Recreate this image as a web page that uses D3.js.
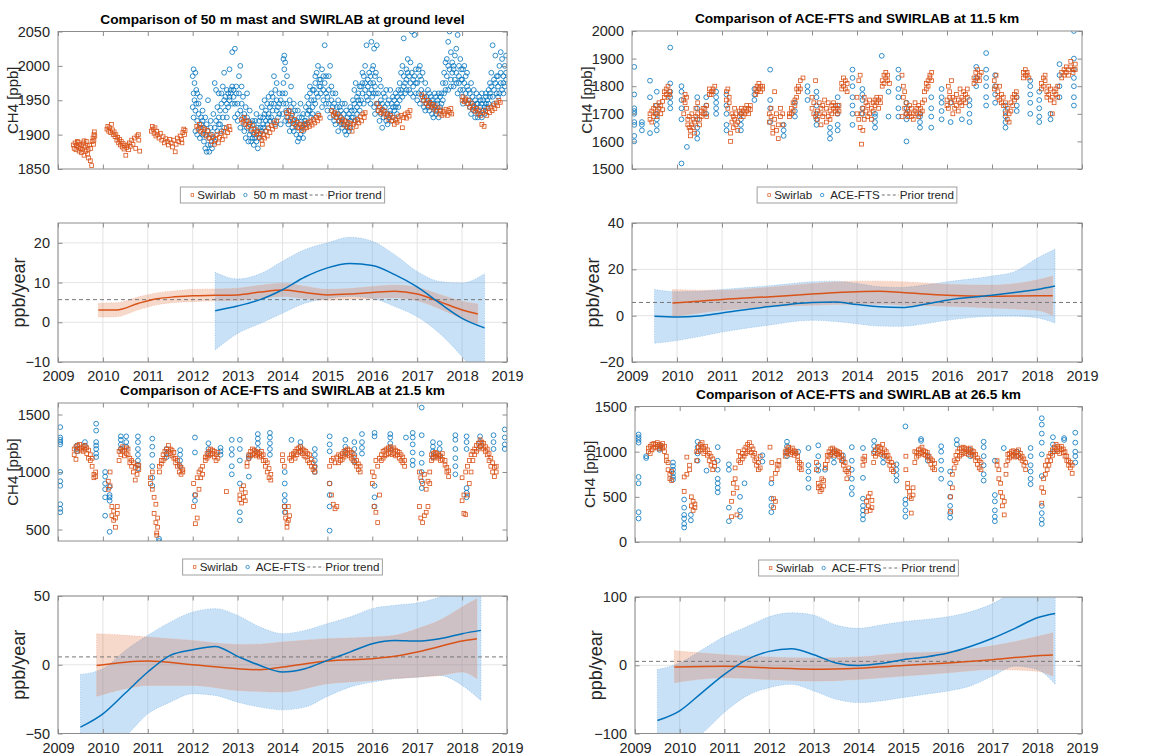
<!DOCTYPE html>
<html>
<head>
<meta charset="utf-8">
<script src="https://cdn.jsdelivr.net/npm/d3@7"></script>
<style>
body { margin: 0; background: #fff; }
svg { font-family: "Liberation Sans", Arial, sans-serif; }
</style>
</head>
<body>
<svg id="fig" width="1158" height="756"></svg>
<script>
// ---- data: scatter series, "t:v1,v2,.." where t = years after 2000 ----
var years = [2009, 2010, 2011, 2012, 2013, 2014, 2015, 2016, 2017, 2018, 2019];
var priorTrend = 5.7;

var groundSwirlab = "9.34:1885 9.36:1880 9.38:1888 9.40:1878 9.41:1884 9.43:1890 9.45:1882,1889 9.47:1876 9.48:1886 9.50:1880 9.52:1874 9.53:1884 9.55:1878 9.57:1888 9.58:1870,1891 9.60:1882 9.62:1876 9.63:1890 9.65:1884 9.66:1872 9.67:1878 9.68:1866 9.70:1885 9.72:1862 9.73:1880 9.75:1855 9.76:1890 9.78:1895 9.79:1886 9.80:1900,1892 9.81:1904 9.82:1898 " +
  "10.09:1908 10.11:1912 10.13:1905 10.15:1910 10.17:1903 10.19:1915 10.21:1907 10.23:1900 10.25:1904 10.27:1897 10.29:1900 10.31:1892 10.33:1896 10.35:1888 10.37:1893 10.39:1885 10.41:1890 10.43:1882 10.45:1887 10.47:1879 10.49:1884 10.51:1870 10.53:1881 10.55:1885 10.57:1878 10.59:1888 10.61:1883 10.64:1892 10.67:1886 10.70:1895 10.73:1880 10.76:1898 10.79:1900 10.80:1892 10.82:1876 " +
  "11.08:1905 11.10:1912 11.12:1908 11.14:1902 11.16:1910 11.18:1898 11.20:1905 11.22:1900 11.25:1895 11.28:1902 11.31:1892 11.34:1897 11.37:1888 11.40:1894 11.43:1890 11.46:1885 11.49:1893 11.52:1888 11.55:1882 11.58:1892 11.61:1875 11.63:1886 11.66:1895 11.69:1890 11.72:1898 11.75:1893 11.76:1888 11.78:1903 11.80:1908 11.82:1900 11.83:1906 " +
  "12.09:1912 12.12:1908 12.15:1915 12.18:1905 12.21:1910 12.24:1902 12.27:1908 12.30:1898 12.33:1906 12.36:1895 12.39:1900 12.42:1890 12.45:1897 12.48:1886 12.51:1893 12.54:1900 12.57:1888 12.60:1896 12.63:1902 12.66:1893 12.69:1905 12.72:1898 12.75:1910 12.78:1903 12.81:1912 12.83:1907 " +
  "13.09:1922 13.12:1918 13.15:1925 13.18:1915 13.21:1920 13.24:1912 13.27:1917 13.30:1908 13.33:1913 13.36:1903 13.39:1908 13.42:1900 13.45:1905 13.48:1896 13.51:1902 13.54:1892 13.55:1886 13.57:1900 13.60:1895 13.63:1905 13.66:1898 13.69:1910 13.72:1903 13.75:1913 13.78:1908 13.81:1917 13.84:1912 13.87:1920 " +
  "14.09:1932 14.12:1925 14.15:1935 14.18:1920 14.21:1928 14.24:1916 14.27:1922 14.30:1912 14.33:1918 14.36:1910 14.39:1915 14.42:1906 14.45:1913 14.48:1908 14.51:1916 14.54:1910 14.57:1918 14.60:1912 14.63:1920 14.66:1914 14.69:1922 14.72:1917 14.75:1925 14.78:1920 14.81:1928 14.84:1924 " +
  "15.10:1935 15.13:1928 15.16:1932 15.19:1925 15.22:1930 15.25:1920 15.28:1926 15.31:1918 15.34:1922 15.37:1914 15.40:1920 15.43:1912 15.46:1918 15.49:1910 15.52:1916 15.55:1905 15.58:1915 15.61:1920 15.64:1912 15.67:1922 15.70:1917 15.73:1926 15.76:1920 15.79:1930 15.82:1925 15.84:1932 " +
  "16.10:1945 16.13:1935 16.16:1940 16.19:1932 16.22:1937 16.25:1930 16.28:1934 16.31:1926 16.34:1930 16.37:1922 16.40:1928 16.43:1920 16.46:1925 16.49:1915 16.52:1922 16.55:1918 16.58:1926 16.61:1920 16.64:1928 16.67:1910 16.70:1925 16.73:1930 16.76:1924 16.79:1932 16.82:1927 16.84:1935 " +
  "17.10:1958 17.13:1950 17.16:1955 17.19:1945 17.22:1950 17.25:1942 17.28:1947 17.31:1940 17.34:1944 17.37:1937 17.40:1942 17.43:1934 17.46:1939 17.49:1930 17.52:1936 17.55:1928 17.58:1934 17.61:1930 17.64:1937 17.67:1928 17.70:1935 17.73:1932 17.75:1938 17.77:1930 " +
  "18.00:1950 18.02:1955 18.05:1948 18.08:1952 18.11:1945 18.14:1950 18.17:1940 18.20:1946 18.23:1937 18.26:1942 18.29:1934 18.32:1938 18.35:1930 18.38:1936 18.41:1928 18.44:1915 18.46:1932 18.49:1912 18.52:1935 18.55:1928 18.58:1938 18.61:1932 18.64:1940 18.67:1935 18.70:1943 18.73:1938 18.76:1946 18.79:1942 18.82:1950 18.85:1947";

var groundMast = "12.00:1940,1985 12.02:1995,1960,1925 12.04:1975,1950 12.06:1990,1935,1905 12.08:1945,1965 12.10:1920,1960,1900 12.13:1945,1930 12.16:1910,1955,1895 12.19:1925,1915 12.22:1900,1935,1920 12.25:1890,1910 12.28:1880,1925,1900 12.31:1875,1915 12.34:1885,1905,1950 12.37:1895,1875 12.40:1910,1885,1920 12.43:1900,1880 12.46:1930,1895 12.49:1975,1910,1890 12.52:1965,1920 12.55:1905,1940 12.58:1925,1915,1960 12.61:1915,1935 12.64:1960,1905,1945 12.67:1925,1970 12.70:1910,1950,1990 12.73:1935,1955 12.76:1945,1925,1965 12.79:1960,1940 12.82:1955,1995,1950 12.85:1965,1960 12.88:2020,1970,1945 12.91:1955,1965 12.94:1925,1945,2025 12.97:1960,1970 " +
  "13.00:1930,1945,1920 13.03:1985,1960 13.06:2000,1935,1910 13.09:1970,1945 13.12:1925,1955 13.15:1915,1930,1905 13.18:1940,1895 13.21:1925,1910,1960 13.24:1890,1920 13.27:1900,1915,1935 13.30:1905,1890 13.33:1920,1895 13.36:1900,1885,1915 13.39:1895,1920 13.42:1890,1905,1930 13.45:1880,1910 13.48:1900,1920,1895 13.51:1910,1925 13.54:1905,1940 13.57:1910,1925,1915 13.60:1930,1950 13.63:1920,1935,1905 13.66:1915,1945 13.69:1930,1925,1955 13.72:1940,1920 13.75:1925,1945,1960 13.78:1935,1955 13.81:1985,1920,1945 13.84:1965,1915 13.87:1935,1950,1975 13.90:1940,1925 13.93:1960,1945,1930 13.96:1950,1915 " +
  "14.00:1930,1960 14.02:2010,1975,1945 14.04:2015,1995 14.06:1920,2005,1960 14.08:1945,1935 14.10:1925,1985 14.13:1915,1935,1920 14.16:1950,1905 14.19:1940,1970,1925 14.22:1910,1930 14.25:1920,1945,1905 14.28:1935,1915 14.31:1900,1920 14.34:1890,1935,1910 14.37:1925,1895 14.40:1945,1915,1900 14.43:1910,1925 14.46:1905,1930,1895 14.49:1920,1915 14.52:1920,1940 14.55:1930,1955,1915 14.58:1945,1935 14.61:1970,1935,1960 14.64:1925,1950 14.67:1940,1965,1930 14.70:1950,1965 14.73:1985,1945,1975 14.76:1960,1990 14.79:2000,1930,1955 14.82:1970,1980 14.85:1960,1980,1970 14.88:1995,1940 14.91:1985,1965,1950 14.94:2030,1975 14.97:1960,1985,1945 " +
  "15.00:1935,1955 15.03:1985,1965,1945 15.06:2000,1925 15.09:1950,1970,1935 15.12:1960,1940 15.15:1920,1945 15.18:1930,1960,1915 15.21:1940,1925 15.24:1905,1950,1930 15.27:1920,1940 15.30:1915,1935,1925 15.33:1945,1910 15.36:1915,1930 15.39:1905,1945,1920 15.42:1900,1935 15.45:1925,1910,1915 15.48:1930,1905 15.51:1920,1940,1910 15.54:1925,1935 15.57:1925,1950 15.60:1935,1965,1945 15.63:1920,1975 15.66:1940,1955,1930 15.69:1950,1960 15.72:1945,1970,1935 15.75:1950,1970 15.78:1990,1960,1975 15.81:1985,1945 15.84:1975,2000,1965 15.87:2030,1955 15.90:1980,1970,1950 15.93:1990,1960 15.96:1945,1985,1975 15.98:2035,1965 " +
  "16.00:1955,1995 16.02:1975,2000,1960 16.04:2025,1940 16.06:1985,1930,1970 16.08:1960,1990 16.10:1945,2030 16.13:1935,1960,1945 16.16:1980,1920 16.19:1950,1970,1930 16.22:1910,1945 16.25:1935,1960,1925 16.28:1955,1940 16.31:1920,1965 16.34:1930,1945,1915 16.37:1925,1950 16.40:1935,1965,1930 16.43:1945,1920 16.46:1955,1940,1925 16.49:1950,1935 16.52:1940,1960 16.55:1930,1955,1945 16.58:1965,1940 16.61:1950,1975 16.64:1960,1990,1965 16.67:2000,1955 16.70:2040,1970,1985 16.73:1975,1960 16.76:1995,1980,1965 16.79:1990,2010 16.82:1965,1985 16.85:1960,2005,1975 16.88:1990,2050 16.91:1980,1955,1970 16.94:2045,1985 16.97:1975,1960,1995 " +
  "17.00:1950,1975 17.03:1995,1960 17.06:1985,1945,2000 17.09:1965,1980 17.12:1955,1990 17.15:1940,1960,1950 17.18:1975,1935 17.21:1955,1945 17.24:1965,1940,1950 17.27:1935,1960 17.30:1945,1955 17.33:1930,1950,1940 17.36:1945,1925 17.39:1960,1940 17.42:1935,1955,1930 17.45:1950,1945 17.48:1925,1960 17.51:1940,1935,1955 17.54:1945,1960 17.57:1950,1975 17.60:1960,1990 17.63:2005,1975,1965 17.66:2010,1985 17.69:2000,1965,2035 17.72:2050,1995 17.75:1980,2020,1970 17.78:1990,2005 17.81:1970,1995,2000 17.84:1980,2015 17.87:1990,2025,1975 17.90:1960,2045 17.93:2000,1985,1975 17.96:2010,1965 17.98:1995,1980 " +
  "18.00:1955,1980 18.02:1965,1995,1945 18.05:1975,2000 18.08:1960,1985,1950 18.11:1970,1990 18.14:1945,1965 18.17:1940,1960,1950 18.20:1975,1930 18.23:1955,1945 18.26:1965,1940,1935 18.29:1950,1925 18.32:1945,1960 18.35:1925,1945,1935 18.38:1955,1930 18.41:1950,1940 18.44:1925,1960,1945 18.47:1935,1950 18.50:1940,1930 18.53:1955,1945,1960 18.56:1940,1950 18.59:1945,1965 18.62:1975,1960,1955 18.65:1990,1970 18.68:1955,2030 18.71:1980,1965,1945 18.74:1975,2015 18.77:1960,1985 18.80:1955,1985,1970 18.83:2000,1960 18.86:2020,1975,1990 18.89:1965,2010 18.92:1975,1985,1960 18.95:2000,1970 18.98:2015,1980,1990";

var km115Swirlab = "9.40:1680,1700 9.44:1670,1710 9.48:1690,1720 9.52:1700,1730 9.56:1710,1690 9.60:1720,1740 9.64:1700,1730 9.68:1715,1745 9.72:1760,1780 9.76:1770,1790 9.80:1760,1800 9.84:1770,1780 " +
  "10.15:1700,1750 10.18:1740,1770 10.21:1720,1760 10.24:1680,1660 10.27:1650,1690 10.30:1640,1620 10.33:1660,1700 10.36:1680,1650 10.39:1630,1670 10.42:1690,1720 10.46:1700,1740 10.50:1660,1680 10.54:1710,1690 10.58:1700,1720 10.62:1720,1700 10.66:1690,1730 10.72:1770,1790 10.76:1780,1770 10.80:1790,1780 10.84:1800 " +
  "11.10:1750,1780 11.13:1720,1790 11.16:1740,1760 11.19:1600,1630 11.22:1670,1700 11.25:1650,1690 11.28:1720,1680 11.31:1660,1700 11.35:1640,1670 11.39:1690,1710 11.43:1700,1720 11.47:1710,1690 11.51:1720,1700 11.55:1710,1730 11.59:1720,1700 11.63:1715,1730 11.75:1770,1790 11.78:1780,1800 11.82:1790,1810 11.86:1780,1800 11.90:1800,1790 " +
  "12.05:1700,1670 12.09:1690,1720 12.13:1650,1630 12.17:1680,1780 12.21:1640,1700 12.25:1610,1660 12.30:1690,1720 12.35:1660,1700 12.50:1700,1690 12.54:1720,1700 12.58:1740,1710 12.62:1750,1730 12.66:1790,1760 12.70:1800,1780 12.74:1820,1790 12.80:1830 " +
  "13.00:1720,1760 13.04:1700,1740 13.08:1820,1690 13.12:1680,1710 13.16:1700,1740 13.20:1660,1720 13.24:1690,1730 13.28:1700,1750 13.32:1670,1720 13.36:1690,1740 13.40:1710,1680 13.44:1730,1700 13.48:1720,1740 13.52:1710,1730 13.56:1720,1700 13.60:1730,1710 13.66:1790,1810 13.70:1800,1830 13.74:1790,1820 13.78:1780,1810 " +
  "14.00:1700,1760 14.04:1680,1820 14.07:1840,1650 14.10:1590,1700 14.13:1640,1720 14.16:1760,1680 14.20:1710,1740 14.24:1690,1730 14.28:1700,1750 14.32:1720,1680 14.36:1740,1710 14.40:1730,1750 14.44:1760,1740 14.48:1750,1720 14.52:1740,1760 14.56:1800,1820 14.60:1810,1840 14.64:1830,1850 14.68:1820,1840 14.72:1810 " +
  "15.00:1690,1840 15.03:1800,1760 15.06:1720,1780 15.09:1740,1700 15.13:1710,1690 15.17:1730,1700 15.21:1720,1690 15.25:1700,1680 15.29:1710,1740 15.33:1700,1720 15.37:1690,1730 15.41:1720,1700 15.45:1740,1710 15.50:1750,1780 15.54:1790,1810 15.58:1820,1800 15.62:1830,1840 15.66:1850,1820 " +
  "16.00:1750,1730 16.03:1800,1720 16.06:1780,1760 16.10:1740,1820 16.13:1700,1760 16.17:1750,1720 16.21:1730,1770 16.25:1710,1750 16.29:1740,1790 16.33:1760,1730 16.37:1750,1780 16.41:1770,1740 16.45:1760,1790 16.60:1810,1830 16.64:1820,1850 16.68:1830,1860 16.72:1840,1820 16.76:1850 " +
  "17.05:1790,1820 17.09:1800,1840 17.13:1780,1760 17.17:1750,1800 17.21:1770,1740 17.25:1730,1760 17.30:1740,1700 17.34:1720,1680 17.38:1700,1670 17.42:1710,1740 17.46:1730,1760 17.50:1750,1770 17.54:1760,1780 17.70:1830,1850 17.74:1840,1860 17.78:1850,1840 17.82:1830 " +
  "18.10:1790,1810 18.14:1800,1830 18.18:1820,1840 18.22:1780,1760 18.26:1770,1800 18.30:1750,1790 18.34:1760,1700 18.38:1780,1740 18.42:1770,1790 18.46:1760,1800 18.55:1830,1850 18.60:1840,1860 18.65:1850,1870 18.70:1860,1840 18.75:1870,1890 18.80:1850,1860 18.85:1880,1860";

var km115Ace = "9.05:1600,1620,1660,1670,1700,1710,1720,1770,1870 9.22:1640,1660,1670 9.40:1630,1760,1820 9.55:1640,1660,1680,1700,1730,1780 9.85:1720,1740,1760,1780,1810,1940 10.10:1520,1680,1720,1750,1780,1800 10.22:1580 10.45:1610,1630,1650,1680,1720,1760 10.65:1700,1730,1760 10.87:1700,1720,1740,1760,1780 11.10:1640,1660,1700,1730,1770 11.42:1640,1660,1680,1700 11.72:1750,1770,1790 12.07:1670,1720,1750,1860 12.37:1620,1640,1660 12.62:1690,1710,1740 12.90:1750,1780,1800 13.10:1660,1680,1700,1730,1760,1780 13.40:1610,1630,1650 13.57:1640,1660,1700,1730,1760 13.90:1660,1700,1730,1760,1800,1830,1860 14.12:1700,1720,1750,1770,1790 14.40:1650,1670,1690,1700 14.55:1910 14.70:1690,1780 14.92:1690,1720,1760,1790,1830,1860 15.10:1600,1680,1700,1720,1740 15.40:1650,1670,1690,1700 15.65:1650,1690,1720,1760 15.88:1680,1710,1740,1760,1790 16.08:1670,1740 16.33:1680 16.50:1670,1700,1730,1750 16.65:1800,1830,1870 16.87:1730,1760,1800,1830,1860,1920 17.07:1740,1770,1800,1840 17.30:1650,1670,1690,1710,1730 17.55:1710,1730,1760 17.85:1700,1740,1770,1800,1820 18.05:1670,1690,1720,1750,1780 18.30:1680,1700 18.50:1760,1800,1840,1880 18.82:1730,1760,1800,1830,1860,1900,2000";

var km215Swirlab = "9.36:1150,1200 9.40:1110,1220 9.44:1180,1230 9.48:1200,1240 9.52:1210,1190 9.56:1220,1180 9.60:1200,1230 9.64:1160,1210 9.68:1120,1190 9.72:1100,1150 9.76:1050,1120 9.80:950,980 9.84:960,1000 " +
  "10.12:850,920 10.16:1000,880 10.20:700,620 10.24:660,580 10.28:520,600 10.32:640,700 10.36:1100,1180 10.40:1150,1200 10.44:1180,1220 10.48:1140,1190 10.52:1160,1210 10.56:1200,1150 10.60:1120,1080 10.64:1050,1100 10.68:1000,1080 10.72:930,1040 10.76:980,1060 10.80:1060,1020 " +
  "11.06:900,950 11.10:850,1000 11.14:640,780 11.18:560,720 11.20:470,450 11.22:600,520 11.26:1050,1000 11.30:1070,1100 11.34:1100,1150 11.38:1120,1180 11.42:1150,1200 11.46:1180,1230 11.50:1160,1200 11.54:1140,1190 11.58:1120,1170 11.62:1080,1120 11.66:1050,1100 11.70:1000,1060 11.74:980,1040 11.78:1000,1020 " +
  "12.02:700,900 12.06:550,800 12.10:600,950 12.14:850,1000 12.18:950,1020 12.22:980,1050 12.28:1100,1130 12.32:1120,1160 12.36:1140,1180 12.40:1150,1200 12.44:1160,1190 12.48:1130,1180 12.52:1100,1150 12.56:1120,1170 12.75:830 " +
  "13.05:760,800 13.09:730,850 13.13:780,880 13.17:750,820 13.21:1080,1050 13.25:1120,1150 13.29:1140,1180 13.33:1150,1200 13.37:1160,1190 13.41:1140,1180 13.45:1150,1170 13.49:1130,1160 13.53:1140,1180 13.57:1100,1150 13.62:1050,1100 13.66:1000,1080 13.70:950,1030 13.74:930,980 " +
  "14.00:1100,1150 14.04:700,1050 14.07:600,650 14.10:520,560 14.13:580,700 14.16:620,1120 14.20:1100,1150 14.24:1140,1160 14.28:1120,1180 14.32:1150,1200 14.36:1170,1210 14.40:1180,1220 14.44:1160,1200 14.48:1140,1190 14.52:1130,1180 14.56:1100,1160 14.60:1080,1150 14.64:1050,1110 14.68:1020,1080 14.72:1000,1040 " +
  "15.05:900,1050 15.09:800,1100 15.13:720,1120 15.17:680,1080 15.21:700,1130 15.25:1080,1150 15.29:1100,1140 15.33:1110,1160 15.37:1130,1180 15.41:1150,1190 15.45:1160,1200 15.49:1140,1190 15.53:1120,1170 15.57:1100,1160 15.61:1080,1130 15.65:1050,1100 15.69:1020,1070 15.73:1000,1050 " +
  "16.00:900,1000 16.04:700,960 16.08:650,1100 16.12:560,1050 16.16:800,1120 16.20:1100,1150 16.24:1120,1180 16.28:1140,1190 16.32:1150,1200 16.36:1160,1210 16.40:1170,1220 16.44:1150,1200 16.48:1160,1210 16.52:1140,1190 16.56:1150,1180 16.60:1120,1170 16.64:1100,1150 16.68:1080,1130 16.72:1050,1100 " +
  "17.05:700,1000 17.08:600,950 17.12:560,900 17.16:620,980 17.20:650,850 17.24:700,920 17.28:900,1000 17.32:1100,1150 17.36:1120,1160 17.40:1130,1170 17.44:1140,1160 17.48:1120,1150 17.52:1100,1140 17.56:1110,1160 17.62:1060,1100 17.66:1000,1040 17.70:960,1010 " +
  "18.00:750,950 18.04:640,800 18.08:630,1000 18.12:800,1050 18.16:900,1100 18.20:1000,1150 18.24:1100,1180 18.28:1150,1200 18.32:1180,1230 18.36:1200,1250 18.40:1220,1280 18.44:1230,1260 18.48:1200,1250 18.52:1180,1220 18.56:1150,1200 18.60:1100,1160 18.64:1050,1120 18.68:1000,1080 18.72:960,1040 18.76:1050,1000";

var km215Ace = "9.05:650,680,720,880,920,1000,1240,1260,1280,1300,1390 9.42:1180,1200,1230 9.60:1230,1260 9.85:1130,1160,1200,1230,1260,1360,1420 10.05:620,780,850,900,960,1000 10.15:480,750,780,800,870 10.40:1200,1240,1280,1310 10.52:1220,1260,1310 10.78:1030,1060,1100,1150,1200,1260,1310 11.10:880,950,1050,1150,1220,1290 11.25:400,420 11.42:1130,1160,1200 11.72:1050,1100,1150,1190 12.05:750,800,1170,1300 12.35:1160,1200,1250 12.62:1150,1180,1210 12.87:980,1050,1150,1200,1280 13.05:580,650,900,1100,1200,1280 13.25:960,1120,1140 13.45:1200,1250,1290,1330 13.72:1150,1200,1250,1300,1340 14.05:650,700,750,800,900,1000 14.20:1280 14.40:1180,1220,1260 14.72:1000,1050,1100,1150,1200 15.05:490,700,800,900,1180,1240,1310 15.40:1170,1220,1280 15.60:1090,1150,1200,1260 15.77:1160,1210,1260,1330 16.05:700,780,880,1310,1340 16.40:1200,1250,1300,1330 16.75:1300 16.90:1060,1100,1170,1240,1300,1340 17.10:860,920,1000,1080,1160,1320,1560 17.35:1130,1180,1220,1260 17.50:1140,1200,1250 17.85:980,1050,1120,1200,1280,1320 18.10:780,820,860,1200,1260,1310 18.40:1220,1260,1310 18.70:1200,1260,1320 18.95:1200,1240,1300,1370";

var km265Swirlab = "9.30:1000,1040 9.34:980,1060 9.38:1020,1080 9.42:1040,1090 9.46:1050,1080 9.50:1060,1100 9.54:1030,1080 9.58:1050,1070 9.62:1040,1090 9.66:1000,1060 9.70:950,900 9.74:800,880 9.78:750,700 9.82:680,780 " +
  "10.10:560,720 10.16:750,940 10.22:800,850 10.26:400,500 10.30:350,450 10.34:380,420 10.38:900,1000 10.42:1000,1050 10.46:1020,1080 10.50:1050,1100 10.54:980,1040 10.58:1000,1060 10.62:960,1020 10.66:900,980 10.70:850,950 10.74:800,920 10.78:840,880 " +
  "11.16:280,450 11.20:540,650 11.24:700,820 11.28:300,600 11.32:900,1000 11.36:880,950 11.40:920,980 11.44:950,1020 11.48:980,1050 11.52:1000,1080 11.56:1020,1100 11.60:990,1060 11.64:960,1030 11.68:900,980 11.72:850,920 11.76:800,880 11.80:820,950 " +
  "12.02:1050 12.06:700,880 12.10:380,480 12.14:450,760 12.18:800,860 12.22:850,900 12.36:950,1000 12.40:980,1030 12.44:1000,1050 12.48:970,1020 12.52:990,1040 12.56:960,1010 12.60:980,1000 12.64:900,950 12.68:820,880 12.72:800,860 " +
  "13.06:800,880 13.10:600,650 13.14:560,620 13.18:580,700 13.22:620,680 13.26:820,860 13.30:900,960 13.34:950,1000 13.38:970,1030 13.42:990,1040 13.46:960,1020 13.50:980,1010 13.54:970,1000 13.58:940,990 13.62:900,960 13.66:850,920 13.70:800,880 13.74:700,780 13.78:760,820 " +
  "14.10:850,920 14.14:900,950 14.18:340,450 14.22:400,500 14.26:350,540 14.30:380,460 14.34:880,980 14.38:950,1020 14.42:980,1050 14.46:1000,1060 14.50:970,1040 14.54:990,1080 14.58:960,1020 14.62:950,1000 14.66:900,960 14.70:850,920 14.74:800,880 14.78:780,850 " +
  "15.06:800,950 15.10:600,650 15.14:500,560 15.18:320,480 15.22:520,600 15.26:880,1000 15.30:940,990 15.34:960,1020 15.38:980,1030 15.42:990,1050 15.46:970,1010 15.50:960,1000 15.54:940,990 15.58:900,950 15.62:860,920 15.66:820,900 15.70:800,870 " +
  "16.06:340,500 16.10:600,750 16.14:820,900 16.18:880,960 16.22:920,1000 16.26:950,1030 16.30:970,1040 16.34:990,1050 16.38:980,1040 16.42:1000,1030 16.46:970,1020 16.50:990,1040 16.54:960,1010 16.58:950,1000 16.62:900,970 16.66:860,930 16.70:820,900 16.74:800,880 " +
  "17.10:850,900 17.14:700,800 17.18:550,650 17.22:400,500 17.26:300,450 17.30:750,850 17.34:900,970 17.38:930,980 17.42:950,1000 17.46:960,1010 17.50:940,990 17.54:950,1000 17.58:960,1020 17.62:930,980 17.66:900,950 17.70:850,920 17.74:800,880 " +
  "18.10:430,600 18.14:550,700 18.18:750,850 18.22:800,900 18.26:850,950 18.30:900,980 18.34:960,1020 18.38:1000,1050 18.42:1020,1080 18.46:1000,1060 18.50:980,1040 18.54:1020,1060 18.58:990,1030 18.62:950,1000 18.66:900,950 18.70:850,900 18.74:820,880 18.78:760,850";

var km265Ace = "9.08:260,330,650,720,1100,1130,1160,1190 9.25:930,950 9.55:1020,1040,1060 9.85:690,720,760,800,840,880 10.10:160,200,260,300,380,470 10.25:240,300 10.40:900,980,1050,1110 10.60:790 10.85:550,600,650,700,800,900,1050 11.10:230,380,800,860 11.35:280,350,500 11.45:650 11.85:890,960 12.05:330,400,480,650 12.40:950,1000,1060,1110 12.65:1000 12.88:600,700,780,850,1040 13.10:790,850,950,1070 13.25:800 13.45:880,940,1000 13.65:900,960 13.85:530,600,700,800,900,1050 14.10:250,300,350,400,480,710,1040 14.35:1000,1060,1120 14.55:880,940 14.85:680,740,800,860 15.05:280,350,420,470,1280 15.40:1120,1140 15.55:900,960 15.85:700,800,900,1000,1060 16.05:270,320,400,500,650,780 16.20:1080,1130 16.50:950,1020 16.80:680,750,850,950,1050,1110 17.05:230,280,350,450,520,900 17.25:1040 17.55:950,1000 17.85:640,700,780,850,950,1040 18.10:200,250,320,400,730,970,1100,1200,1300,1370 18.35:1000,1080,1160 18.60:1130,1150 18.85:880,950,1000,1100,1210";

// ---- data: trend rows [year after 2000, trend, lower, upper] in ppb/year ----
var trendGroundSwirlab = [[9.9,3.1,1.3,4.8],[10.3,3.1,1.4,4.9],[10.8,4.8,3.2,6.4],[11.2,5.9,4.4,7.4],[11.6,6.4,5.0,7.9],[12.0,6.7,5.2,8.3],[12.5,6.8,5.4,8.4],[13.0,6.9,5.5,8.6],[13.5,7.6,6.0,9.3],[14.0,8.1,6.5,9.8],[14.5,7.5,6.0,9.1],[15.0,6.9,5.6,8.3],[15.5,7.1,5.8,8.5],[16.0,7.5,6.0,9.0],[16.5,7.8,6.2,9.4],[17.0,7.1,5.4,8.8],[17.5,5.2,3.4,7.0],[18.0,3.1,0.9,5.3],[18.35,2.1,-0.4,4.6]];
var trendGroundMast = [[12.5,2.9,-7.0,12.6],[13.0,4.1,-2.8,10.9],[13.5,5.7,-0.3,12.2],[14.0,8.2,2.3,15.4],[14.5,11.4,4.8,18.3],[15.0,13.7,6.0,20.0],[15.5,14.8,6.5,21.4],[16.0,14.3,6.0,20.4],[16.5,12.0,4.0,17.0],[17.0,8.9,1.4,12.8],[17.5,4.8,-2.8,10.3],[18.0,1.0,-8.7,9.9],[18.5,-1.4,-16.0,12.2]];
var trend115Swirlab = [[9.9,5.5,-0.3,11.3],[10.5,6.2,1.2,11.0],[11.0,7.0,2.3,11.0],[12.0,8.1,3.8,12.2],[13.0,9.3,4.5,13.9],[14.0,10.3,4.9,14.9],[14.5,10.5,4.9,14.9],[15.0,10.0,4.5,14.6],[16.0,8.8,4.1,13.6],[17.0,8.4,3.3,13.2],[18.0,8.6,2.3,15.4],[18.35,8.6,0.1,17.1]];
var trend115Ace = [[9.5,-0.3,-11.9,11.3],[10.0,-0.6,-10.7,10.3],[10.5,-0.1,-9.0,10.5],[11.0,1.2,-7.1,11.3],[12.0,3.8,-4.2,12.8],[13.0,5.7,-2.0,14.6],[13.5,5.9,-2.5,14.9],[14.0,4.8,-3.5,13.9],[14.5,3.8,-4.5,12.5],[15.0,3.5,-4.6,12.2],[15.5,4.9,-3.5,13.2],[16.0,6.7,-2.0,14.6],[17.0,8.8,-0.3,17.1],[17.5,10.0,-0.2,19.0],[18.0,11.3,-0.9,24.8],[18.4,12.8,-3.2,28.7]];
var trend215Swirlab = [[9.86,-0.5,-23.0,22.6],[10.5,1.9,-17.5,21.4],[11.0,2.7,-15.0,20.1],[12.0,0.0,-15.0,17.7],[13.0,-2.9,-18.7,14.8],[13.5,-3.6,-19.5,15.0],[14.0,-1.7,-19.9,16.5],[15.0,2.7,-13.8,18.9],[16.0,4.4,-11.4,20.1],[16.5,6.1,-10.0,21.4],[17.0,9.2,-9.0,26.2],[17.5,13.3,-7.8,32.3],[18.0,17.2,-5.3,42.0],[18.33,18.9,-10.2,48.0]];
var trend215Ace = [[9.5,-45.4,-75,-7.0],[10.0,-35.7,-62,-2.9],[10.5,-20.6,-52,10.4],[11.0,-5.3,-35.7,21.4],[11.5,6.8,-27.2,31.0],[12.0,10.9,-21.1,38.3],[12.5,13.3,-22.3,40.8],[13.0,6.1,-27.2,35.9],[13.5,-0.5,-30.8,27.4],[14.0,-5.3,-32.8,22.6],[14.5,-2.9,-30.8,25.0],[15.0,3.2,-23.0,29.9],[15.5,9.2,-16.3,34.7],[16.0,15.3,-12.6,40.8],[16.5,17.7,-10.2,43.2],[17.0,17.2,-9.0,44.9],[17.5,18.9,-7.8,49.3],[18.0,22.6,-15.0,56.6],[18.42,25.0,-26.0,59.0]];
var trend265Swirlab = [[9.88,-2.4,-25.6,21.3],[11.0,-1.4,-18.4,15.5],[12.0,-3.9,-20.8,12.1],[13.0,-5.8,-23.2,10.6],[14.0,-4.3,-20.8,12.1],[15.0,-0.5,-15.9,17.9],[16.0,3.4,-11.1,20.3],[17.0,8.2,-6.3,28.5],[18.0,14.0,-8.7,42.0],[18.35,15.0,-15.9,47.8]];
var trend265Ace = [[9.5,-81,-140,-6.3],[10.0,-66.7,-120,3.4],[10.5,-40,-100,22.7],[11.0,-13.5,-69,42],[11.5,8.2,-45,56.5],[12.0,20.3,-32.9,71],[12.5,24.2,-28,76.8],[13.0,15.5,-37.7,73.4],[13.5,3.4,-49.8,58.9],[14.0,-0.5,-54.6,54.1],[14.5,2.4,-52.2,58.9],[15.0,8.2,-47.3,63.8],[15.5,12.1,-42.5,67],[16.0,17.9,-37.7,71],[16.5,27.5,-30.4,78.3],[17.0,39.6,-15.9,90.3],[17.5,54.1,-1.4,110],[18.0,69.6,-6.3,129],[18.4,75.8,-28,134]];

// ---- styling ----
var blue = "#0072BD", orange = "#D95319";
var axisCol = "#8c8c8c", textCol = "#262626", gridCol = "#e4e4e4";
var svg = d3.select("#fig");
var clipId = 0;

function parseCols(s) {
  var out = [];
  s.trim().split(/\s+/).forEach(function(tok) {
    var p = tok.split(":");
    var t = 2000 + (+p[0]);
    p[1].split(",").forEach(function(v) { out.push([t, +v]); });
  });
  return out;
}
function rows(arr) {
  return arr.map(function(r) { return {t: 2000 + r[0], m: r[1], lo: r[2], hi: r[3]}; });
}

function styleAxis(sel) {
  sel.select(".domain").remove();
  sel.selectAll(".tick line").attr("stroke", axisCol);
  sel.selectAll(".tick text").attr("fill", textCol).style("font-size", "14.5px")
     .style("font-family", "'Liberation Sans', Arial, sans-serif");
}

function makeAxes(box, yDomain, yTicks, opts) {
  var g = svg.append("g");
  var x = d3.scaleLinear().domain([2009, 2019]).range([box.l, box.r]);
  var y = d3.scaleLinear().domain(yDomain).range([box.b, box.t]);
  var id = "clip" + (clipId++);
  svg.append("clipPath").attr("id", id).append("rect")
     .attr("x", box.l).attr("y", box.t).attr("width", box.r - box.l).attr("height", box.b - box.t);

  if (opts.grid) {
    g.selectAll(".gx").data(years).enter().append("line")
      .attr("x1", function(d) { return x(d); }).attr("x2", function(d) { return x(d); })
      .attr("y1", box.t).attr("y2", box.b).attr("stroke", gridCol).attr("stroke-width", 1);
    g.selectAll(".gy").data(yTicks).enter().append("line")
      .attr("y1", function(d) { return y(d); }).attr("y2", function(d) { return y(d); })
      .attr("x1", box.l).attr("x2", box.r).attr("stroke", gridCol).attr("stroke-width", 1);
  }
  var plot = svg.append("g").attr("clip-path", "url(#" + id + ")");
  var top = svg.append("g");

  // inward ticks on all four sides
  var tl = 4.5;
  top.append("g").attr("transform", "translate(0," + box.b + ")")
    .call(d3.axisBottom(x).tickValues(years).tickSize(-tl).tickFormat(opts.xLabels ? d3.format("d") : "").tickPadding(9))
    .call(styleAxis);
  top.append("g").attr("transform", "translate(0," + box.t + ")")
    .call(d3.axisTop(x).tickValues(years).tickSize(-tl).tickFormat(""))
    .call(styleAxis);
  top.append("g").attr("transform", "translate(" + box.l + ",0)")
    .call(d3.axisLeft(y).tickValues(yTicks).tickSize(-tl).tickPadding(8).tickFormat(d3.format("d")))
    .call(styleAxis);
  top.append("g").attr("transform", "translate(" + box.r + ",0)")
    .call(d3.axisRight(y).tickValues(yTicks).tickSize(-tl).tickFormat(""))
    .call(styleAxis);
  top.append("rect").attr("x", box.l).attr("y", box.t)
    .attr("width", box.r - box.l).attr("height", box.b - box.t)
    .attr("fill", "none").attr("stroke", axisCol).attr("stroke-width", 1);

  top.append("text")
    .attr("transform", "translate(" + (box.l - opts.labelOff) + "," + ((box.t + box.b) / 2) + ") rotate(-90)")
    .attr("text-anchor", "middle").attr("fill", textCol)
    .style("font-size", opts.labelSize + "px").text(opts.ylabel);
  return {x: x, y: y, plot: plot, top: top};
}

function drawLegend(cx, cy, otName) {
  var g = svg.append("g");
  var box = g.append("rect");
  var x = 12;
  // swirlab square
  g.append("rect").attr("x", x - 1.3).attr("y", cy - 1.3).attr("width", 2.6).attr("height", 2.6)
    .attr("fill", "none").attr("stroke", orange).attr("stroke-width", 0.7);
  x += 5;
  var t1 = g.append("text").attr("x", x).attr("y", cy + 4).attr("fill", textCol).style("font-size", "11.6px").text("Swirlab");
  x += t1.node().getComputedTextLength() + 10;
  g.append("circle").attr("cx", x).attr("cy", cy).attr("r", 1.7)
    .attr("fill", "none").attr("stroke", blue).attr("stroke-width", 0.7);
  x += 8;
  var t2 = g.append("text").attr("x", x).attr("y", cy + 4).attr("fill", textCol).style("font-size", "11.6px").text(otName);
  x += t2.node().getComputedTextLength() + 2;
  g.append("line").attr("x1", x).attr("x2", x + 17).attr("y1", cy).attr("y2", cy)
    .attr("stroke", "#707070").attr("stroke-dasharray", "3,2.5").attr("stroke-width", 1);
  x += 18;
  var t3 = g.append("text").attr("x", x).attr("y", cy + 4).attr("fill", textCol).style("font-size", "11.6px").text("Prior trend");
  x += t3.node().getComputedTextLength() + 3;
  box.attr("x", 0).attr("y", cy - 8).attr("width", x).attr("height", 16)
    .attr("fill", "#fff").attr("stroke", "#a0a0a0").attr("stroke-width", 1);
  g.attr("transform", "translate(" + (cx - x / 2) + ",0)");
}

function drawScatter(box, yDomain, yTicks, title, swData, otData, otName) {
  var a = makeAxes(box, yDomain, yTicks, {grid: false, xLabels: false, ylabel: "CH4 [ppb]", labelOff: 40, labelSize: 15});
  var ot = parseCols(otData), sw = parseCols(swData);
  a.plot.selectAll(".o").data(ot).enter().append("circle")
    .attr("cx", function(d) { return a.x(d[0]); }).attr("cy", function(d) { return a.y(d[1]); })
    .attr("r", 2.4).attr("fill", "none").attr("stroke", blue).attr("stroke-width", 0.8);
  a.plot.selectAll(".s").data(sw).enter().append("rect")
    .attr("x", function(d) { return a.x(d[0]) - 1.9; }).attr("y", function(d) { return a.y(d[1]) - 1.9; })
    .attr("width", 3.8).attr("height", 3.8).attr("fill", "none").attr("stroke", orange).attr("stroke-width", 0.8);
  svg.append("text").attr("x", (box.l + box.r) / 2).attr("y", box.t - 8)
    .attr("text-anchor", "middle").attr("fill", "#000").style("font-weight", "bold").style("font-size", "13.7px")
    .text(title);
  drawLegend((box.l + box.r) / 2, box.b + 26, otName);
}

function drawTrend(box, yDomain, yTicks, swRows, otRows) {
  var a = makeAxes(box, yDomain, yTicks, {grid: true, xLabels: true, ylabel: "ppb/year", labelOff: 33, labelSize: 18});
  var sw = rows(swRows), ot = rows(otRows);
  var area = d3.area().curve(d3.curveMonotoneX)
    .x(function(d) { return a.x(d.t); }).y0(function(d) { return a.y(d.lo); }).y1(function(d) { return a.y(d.hi); });
  var line = d3.line().curve(d3.curveMonotoneX)
    .x(function(d) { return a.x(d.t); }).y(function(d) { return a.y(d.m); });
  a.plot.append("path").datum(ot).attr("d", area)
    .attr("fill", "rgb(100,170,230)").attr("fill-opacity", 0.35)
    .attr("stroke", "rgb(120,180,232)").attr("stroke-width", 0.6).attr("stroke-dasharray", "1,1.5");
  a.plot.append("path").datum(sw).attr("d", area)
    .attr("fill", orange).attr("fill-opacity", 0.22)
    .attr("stroke", "rgb(240,170,140)").attr("stroke-width", 0.6).attr("stroke-dasharray", "1,1.5");
  a.plot.append("line").attr("x1", box.l).attr("x2", box.r)
    .attr("y1", a.y(priorTrend)).attr("y2", a.y(priorTrend))
    .attr("stroke", "#777").attr("stroke-width", 1).attr("stroke-dasharray", "4,3");
  a.plot.append("path").datum(sw).attr("d", line).attr("fill", "none").attr("stroke", orange).attr("stroke-width", 1.5);
  a.plot.append("path").datum(ot).attr("d", line).attr("fill", "none").attr("stroke", blue).attr("stroke-width", 1.5);
}

// ---- panels ----
drawScatter({l: 58, r: 507, t: 31.5, b: 169}, [1850, 2050], [1850, 1900, 1950, 2000, 2050],
  "Comparison of 50 m mast and SWIRLAB at ground level", groundSwirlab, groundMast, "50 m mast");
drawScatter({l: 632, r: 1082, t: 31, b: 169}, [1500, 2000], [1500, 1600, 1700, 1800, 1900, 2000],
  "Comparison of ACE-FTS and SWIRLAB at 11.5 km", km115Swirlab, km115Ace, "ACE-FTS");
drawTrend({l: 58, r: 507, t: 223, b: 362}, [-10, 25], [-10, 0, 10, 20], trendGroundSwirlab, trendGroundMast);
drawTrend({l: 632, r: 1082, t: 223, b: 362}, [-20, 40], [-20, 0, 20, 40], trend115Swirlab, trend115Ace);
drawScatter({l: 58, r: 507, t: 403, b: 541}, [400, 1600], [500, 1000, 1500],
  "Comparison of ACE-FTS and SWIRLAB at 21.5 km", km215Swirlab, km215Ace, "ACE-FTS");
drawScatter({l: 635, r: 1082, t: 406.5, b: 542}, [0, 1500], [0, 500, 1000, 1500],
  "Comparison of ACE-FTS and SWIRLAB at 26.5 km", km265Swirlab, km265Ace, "ACE-FTS");
drawTrend({l: 58, r: 507, t: 596, b: 733.5}, [-50, 50], [-50, 0, 50], trend215Swirlab, trend215Ace);
drawTrend({l: 635, r: 1082, t: 597, b: 733.5}, [-100, 100], [-100, 0, 100], trend265Swirlab, trend265Ace);
</script>
</body>
</html>
